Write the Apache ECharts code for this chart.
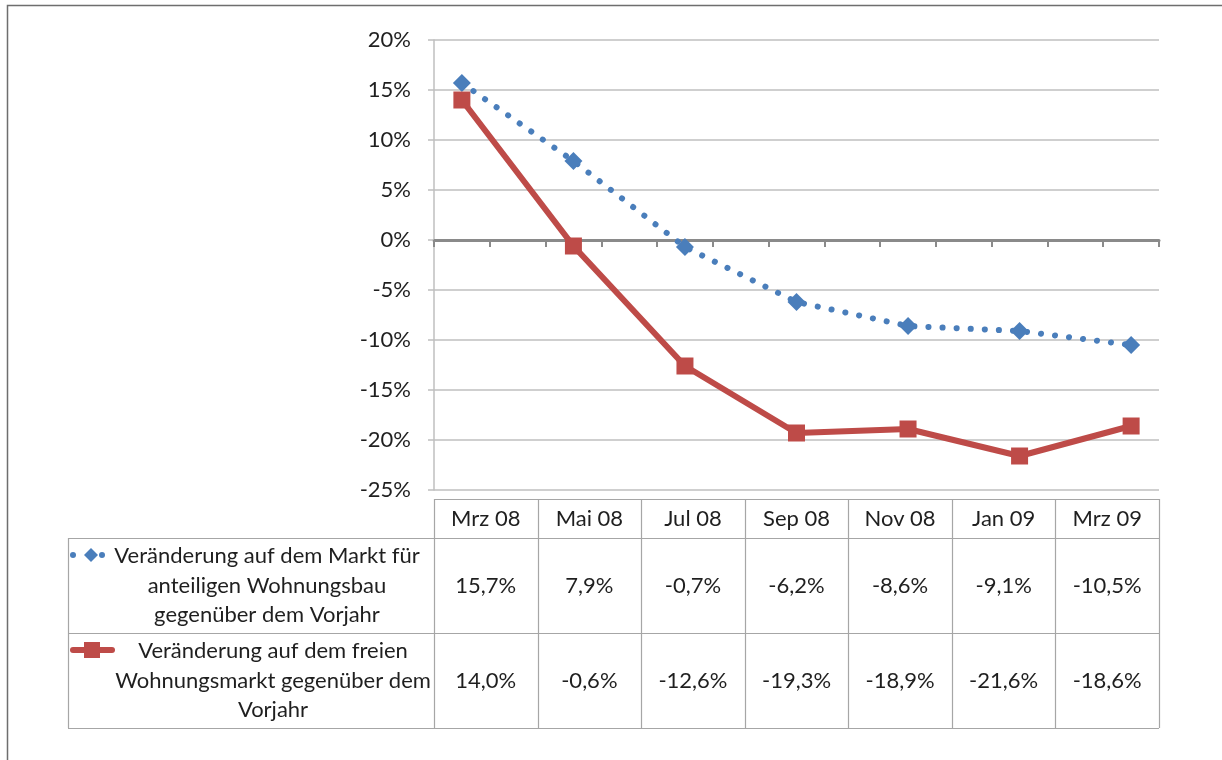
<!DOCTYPE html>
<html>
<head>
<meta charset="utf-8">
<script src="https://cdn.jsdelivr.net/npm/echarts@6/dist/echarts.min.js"></script>
<style>
html,body{margin:0;padding:0;background:#fff;}
#c{width:1222px;height:760px;}
</style>
</head>
<body>
<div id="c"></div>
<script>
// ---- data ----
var months = ['Mrz 08','Apr 08','Mai 08','Jun 08','Jul 08','Aug 08','Sep 08','Okt 08','Nov 08','Dez 08','Jan 09','Feb 09','Mrz 09'];
var categories = ['Mrz 08','Mai 08','Jul 08','Sep 08','Nov 08','Jan 09','Mrz 09'];
var seriesAName = ['Veränderung auf dem Markt für','anteiligen Wohnungsbau','gegenüber dem Vorjahr'];
var seriesBName = ['Veränderung auf dem freien','Wohnungsmarkt gegenüber dem','Vorjahr'];
var seriesA = [15.7, 7.9, -0.7, -6.2, -8.6, -9.1, -10.5];
var seriesB = [14.0, -0.6, -12.6, -19.3, -18.9, -21.6, -18.6];
var yMin = -25, yMax = 20, yStep = 5;

// ---- layout ----
var FONT = 'Lato, "Noto Sans", sans-serif';
var FS = 22;
var W = 1222, H = 760;
var gridLeft = 434, gridRight = 63, gridTop = 40, gridBottom = 270;
var plotRight = W - gridRight;
var tableTop = 499, headerBottom = 538, row1Bottom = 633, row2Bottom = 728, tableLeft = 68;
var blue = '#4A7EBB', red = '#BE4B48', lineGray = '#A6A6A6', textColor = '#1f1f1f';

function fmt(v){ return v.toFixed(1).replace('.', ',') + '%'; }

var chart = echarts.init(document.getElementById('c'), null, {renderer:'canvas'});

var graphics = [];
// outer frame
graphics.push({type:'rect', shape:{x:7.5,y:5.5,width:W+20,height:H+20}, style:{fill:'none', stroke:'#6e6e6e', lineWidth:1.5}, silent:true});

var colW = (plotRight - gridLeft) / categories.length;
function hline(x1,x2,y){ graphics.push({type:'line', shape:{x1:x1,y1:y+0.5,x2:x2,y2:y+0.5}, style:{stroke:lineGray,lineWidth:1.2}, silent:true}); }
function vline(x,y1,y2){ graphics.push({type:'line', shape:{x1:x+0.5,y1:y1,x2:x+0.5,y2:y2}, style:{stroke:lineGray,lineWidth:1.2}, silent:true}); }
// table grid
hline(gridLeft, plotRight, tableTop);
hline(tableLeft, plotRight, headerBottom);
hline(tableLeft, plotRight, row1Bottom);
hline(tableLeft, plotRight, row2Bottom);
vline(tableLeft, headerBottom, row2Bottom);
for (var i = 0; i <= categories.length; i++) {
  vline(Math.round(gridLeft + i*colW), tableTop, row2Bottom);
}
function txt(s, x, y){
  graphics.push({type:'text', silent:true, style:{text:s, x:x, y:y, textAlign:'center', textVerticalAlign:'middle', font: FS+'px '+FONT, fill:textColor}});
}
for (var i = 0; i < categories.length; i++) {
  var cx = gridLeft + (i+0.5)*colW;
  txt(categories[i], cx, (tableTop+headerBottom)/2);
  txt(fmt(seriesA[i]), cx, (headerBottom+row1Bottom)/2);
  txt(fmt(seriesB[i]), cx, (row1Bottom+row2Bottom)/2);
}
// legend texts
var lh = 29.5;
seriesAName.forEach(function(s, k){ txt(s, 267, 556 + k*lh); });
seriesBName.forEach(function(s, k){ txt(s, 273, 651 + k*lh); });
// legend markers
graphics.push({type:'circle', silent:true, shape:{cx:73, cy:555, r:3}, style:{fill:blue}});
graphics.push({type:'circle', silent:true, shape:{cx:102, cy:555, r:3}, style:{fill:blue}});
graphics.push({type:'polygon', silent:true, shape:{points:[[91,548],[98,555],[91,562],[84,555]]}, style:{fill:blue}});
graphics.push({type:'line', silent:true, shape:{x1:73,y1:650,x2:112,y2:650}, style:{stroke:red, lineWidth:6, lineCap:'round'}});
graphics.push({type:'rect', silent:true, shape:{x:84,y:642,width:16,height:16}, style:{fill:red}});

var option = {
  animation: false,
  backgroundColor: '#fff',
  textStyle: {fontFamily: FONT},
  grid: {left: gridLeft, right: gridRight, top: gridTop, bottom: gridBottom, containLabel: false},
  xAxis: {
    type: 'category',
    data: months,
    boundaryGap: true,
    axisLine: {onZero: true, lineStyle: {color: '#8A8A8A', width: 3}},
    axisTick: {show: true, interval: 0, length: 7, lineStyle: {color: '#8A8A8A', width: 2}},
    axisLabel: {show: false},
    splitLine: {show: false}
  },
  yAxis: {
    type: 'value',
    min: yMin, max: yMax, interval: yStep,
    axisLine: {show: true, onZero: false, lineStyle: {color: '#BFBFBF', width: 1.5}},
    axisTick: {show: true, length: 6, lineStyle: {color: '#BFBFBF', width: 1.5}},
    axisLabel: {formatter: '{value}%', margin: 23, fontSize: FS, color: textColor, fontFamily: FONT},
    splitLine: {show: true, lineStyle: {color: '#BFBFBF', width: 1.5}}
  },
  series: [
    {
      name: seriesAName.join(' '),
      type: 'line',
      data: categories.map(function(c, i){ return [c, seriesA[i]]; }),
      symbol: 'diamond', symbolSize: 18,
      itemStyle: {color: blue},
      lineStyle: {color: blue, width: 6, type: [0.1, 14], cap: 'round'}
    },
    {
      name: seriesBName.join(' '),
      type: 'line',
      data: categories.map(function(c, i){ return [c, seriesB[i]]; }),
      symbol: 'rect', symbolSize: 17,
      itemStyle: {color: red},
      lineStyle: {color: red, width: 6}
    }
  ],
  graphic: graphics
};
chart.setOption(option);
</script>
</body>
</html>
